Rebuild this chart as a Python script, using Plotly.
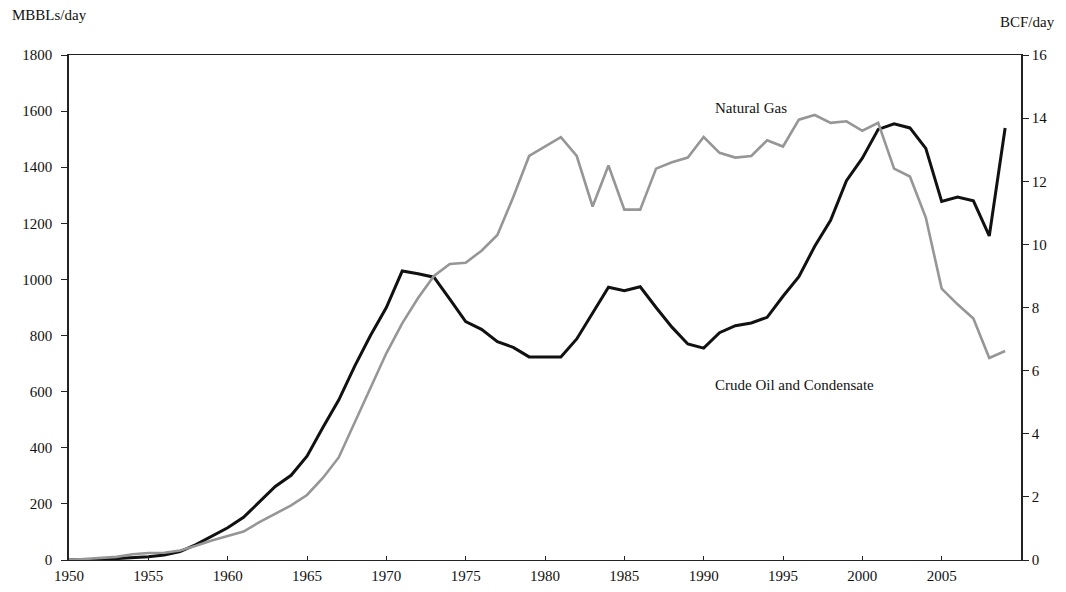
import plotly.graph_objects as go

years = list(range(1950, 2010))

crude_oil = [0, 0, 2, 5, 8, 12, 18, 30, 55, 85,
             115, 152, 208, 262, 302, 370, 472, 570, 690, 800,
             900, 1030, 1020, 1008, 930, 850, 822, 778, 758, 724,
             724, 724, 788, 880, 972, 960, 974, 900, 830, 770,
             755, 810, 835, 845, 865, 940, 1010, 1118, 1211, 1352,
             1432, 1535, 1555, 1540, 1467, 1278, 1294, 1280, 1155, 1540]

natural_gas = [0, 0.03, 0.05, 0.1, 0.18, 0.22, 0.23, 0.3, 0.45, 0.62,
               0.76, 0.9, 1.2, 1.47, 1.73, 2.06, 2.6, 3.25, 4.35, 5.45,
               6.55, 7.5, 8.3, 9.0, 9.38, 9.42, 9.8, 10.3, 11.5, 12.8,
               13.1, 13.4, 12.8, 11.2, 12.5, 11.1, 11.1, 12.4, 12.6, 12.75,
               13.4, 12.9, 12.75, 12.8, 13.3, 13.1, 13.95, 14.1, 13.85, 13.9,
               13.6, 13.85, 12.4, 12.15, 10.85, 8.6, 8.1, 7.65, 6.4, 6.62]

x_ticks = list(range(1950, 2010, 5))
left_ticks = list(range(0, 2000, 200))
right_ticks = list(range(0, 18, 2))

FONT = "Liberation Serif"

fig = go.Figure()
fig.add_trace(go.Scatter(x=years, y=natural_gas, mode="lines", yaxis="y2",
                         line=dict(color="#969696", width=2.6),
                         name="Natural Gas", showlegend=False))
fig.add_trace(go.Scatter(x=years, y=crude_oil, mode="lines",
                         line=dict(color="#111111", width=3),
                         name="Crude Oil and Condensate", showlegend=False))

fig.update_layout(
    width=1050, height=576,
    margin=dict(l=61, r=37, t=47, b=24, autoexpand=False),
    paper_bgcolor="white", plot_bgcolor="white",
    font=dict(family=FONT, size=15, color="#111111"),
    xaxis=dict(range=[1950, 2010], tickvals=x_ticks, showgrid=False, zeroline=False,
               automargin=False,
               showline=True, linecolor="#222222", linewidth=1, mirror=True,
               ticks="inside", ticklen=4, tickcolor="#222222",
               ticklabelstandoff=2,
               tickfont=dict(family=FONT, size=15)),
    yaxis=dict(range=[0, 1800], tickvals=left_ticks, showgrid=False, zeroline=False,
               automargin=False,
               showline=True, linecolor="#222222", linewidth=1.5,
               ticks="outside", ticklen=6, tickcolor="#222222",
               ticklabelstandoff=6,
               tickfont=dict(family=FONT, size=15)),
    yaxis2=dict(range=[0, 16], tickvals=right_ticks, overlaying="y", side="right",
                automargin=False,
                showgrid=False, zeroline=False,
                showline=True, linecolor="#222222", linewidth=1.5,
                ticks="outside", ticklen=6, tickcolor="#222222",
                tickfont=dict(family=FONT, size=15)),
    annotations=[
        dict(text="MBBLs/day", xref="paper", yref="paper", x=-0.062, y=1.079,
             xanchor="left", yanchor="middle", showarrow=False,
             font=dict(family=FONT, size=15)),
        dict(text="BCF/day", xref="paper", yref="paper", x=1.038, y=1.065,
             xanchor="right", yanchor="middle", showarrow=False,
             font=dict(family=FONT, size=15)),
        dict(text="Natural Gas", x=1993.0, y=1611, xref="x", yref="y",
             showarrow=False, font=dict(family=FONT, size=15)),
        dict(text="Crude Oil and Condensate", x=1995.7, y=624, xref="x", yref="y",
             showarrow=False, font=dict(family=FONT, size=15)),
    ],
)

fig.write_html("out.html")
